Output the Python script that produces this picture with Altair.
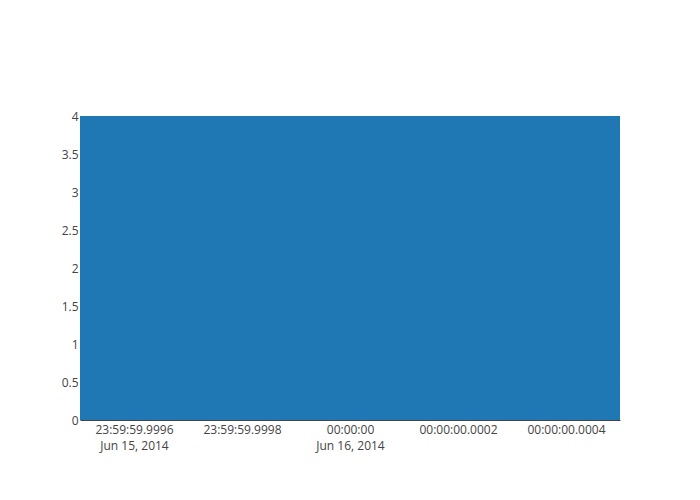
import altair as alt
import pandas as pd

# Data: one bar at Jun 16, 2014 00:00:00 (x given as microsecond offset from that instant)
dates = ["2014-06-16 00:00:00"]
offsets_us = [0]
values = [4]

# Axis tick labels (microsecond offsets relative to Jun 16, 2014 00:00:00)
tick_values = [-400, -200, 0, 200, 400]
tick_line1 = ["23:59:59.9996", "23:59:59.9998", "00:00:00", "00:00:00.0002", "00:00:00.0004"]
tick_line2 = ["Jun 15, 2014", "", "Jun 16, 2014", "", ""]
y_ticks = [0, 0.5, 1, 1.5, 2, 2.5, 3, 3.5, 4]

df = pd.DataFrame({"date": dates, "offset": offsets_us, "value": values, "base": [0] * len(values)})

expr_parts = []
for v, a, b in zip(tick_values, tick_line1, tick_line2):
    lab = f"['{a}', '{b}']" if b else f"'{a}'"
    expr_parts.append(f"datum.value == {v} ? {lab} : ")
label_expr = "".join(expr_parts) + "''"

font = "Open Sans"

chart = (
    alt.Chart(df)
    .transform_calculate(x0="datum.offset - 500", x1="datum.offset + 500")
    .mark_rect(color="#1f77b4")
    .encode(
        x=alt.X(
            "x0:Q",
            scale=alt.Scale(domain=[-500, 500], nice=False, zero=False),
            axis=alt.Axis(
                values=tick_values,
                labelExpr=label_expr,
                title=None,
                grid=False,
                ticks=False,
                domain=True,
                domainColor="#444",
                domainWidth=1,
                labelFont=font,
                labelFontSize=12,
                labelColor="#444",
                labelPadding=4,
                labelLineHeight=16,
                labelBaseline="top",
                zindex=1,
            ),
        ),
        x2="x1:Q",
        y=alt.Y(
            "value:Q",
            scale=alt.Scale(domain=[0, 4], nice=False),
            axis=alt.Axis(
                values=y_ticks,
                format="~g",
                title=None,
                grid=True,
                gridColor="#eee",
                ticks=False,
                domain=False,
                labelFont=font,
                labelFontSize=12,
                labelColor="#444",
                labelPadding=2,
            ),
        ),
        y2="base:Q",
    )
    .properties(
        width=540,
        height=304,
        autosize=alt.AutoSizeParams(type="none"),
        padding={"left": 72, "top": 108, "right": 72, "bottom": 72},
        background="white",
    )
    .configure_view(strokeWidth=0, stroke=None)
)

chart.save("out.html", embed_options={"renderer": "svg", "actions": False})
